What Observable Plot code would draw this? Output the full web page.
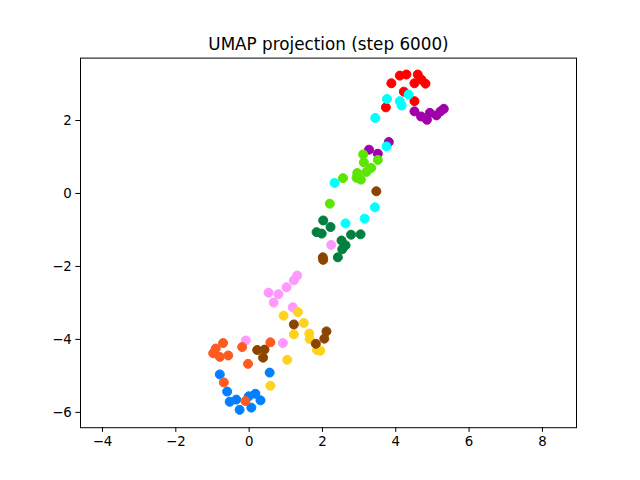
<!DOCTYPE html>
<html>
<head>
<meta charset="utf-8">
<script src="https://cdn.jsdelivr.net/npm/d3@7"></script>
<script src="https://cdn.jsdelivr.net/npm/@observablehq/plot@0.6"></script>
<style>
  body { margin: 0; background: #fff; }
  svg { font-family: "DejaVu Sans", sans-serif; }
</style>
</head>
<body>
<div id="chart"></div>
<script>
const title = "UMAP projection (step 6000)";
const xTicks = [-4, -2, 0, 2, 4, 6, 8];
const yTicks = [-6, -4, -2, 0, 2];

// Each series: [x, y] pairs
const purpleSeries = [[4.51,2.25],[4.69,2.11],[4.85,2.02],[4.93,2.21],[5.11,2.14],[5.22,2.25],[5.31,2.32],[3.81,1.41],[3.27,1.20],[3.51,1.09]];
const redSeries = [[4.11,3.23],[4.29,3.26],[4.60,3.26],[3.88,3.02],[4.51,3.02],[4.81,3.01],[4.70,3.12],[4.22,2.79],[4.51,2.53],[3.73,2.36]];
const cyanSeries = [[3.76,2.59],[4.35,2.71],[4.11,2.53],[4.16,2.41],[3.44,2.07],[3.75,1.29],[2.33,0.29],[3.43,-0.38],[3.15,-0.69],[2.63,-0.82]];
const limeSeries = [[3.11,1.07],[3.51,0.92],[3.13,0.85],[3.33,0.70],[3.20,0.59],[2.95,0.56],[2.93,0.43],[3.05,0.38],[2.56,0.42],[2.20,-0.28]];
const darkGreenSeries = [[2.02,-0.74],[2.22,-0.92],[1.84,-1.06],[1.98,-1.10],[2.52,-1.29],[2.78,-1.13],[3.04,-1.12],[2.63,-1.42],[2.54,-1.53],[2.42,-1.75]];
const pinkSeries = [[1.31,-2.25],[1.22,-2.38],[1.02,-2.57],[0.53,-2.72],[0.80,-2.76],[0.67,-2.99],[1.19,-3.12],[2.24,-1.41],[-0.09,-4.03],[0.92,-4.10]];
const yellowSeries = [[0.94,-3.35],[1.33,-3.25],[1.49,-3.55],[1.22,-3.86],[1.64,-3.84],[1.65,-3.99],[1.85,-4.29],[1.94,-4.31],[1.04,-4.56],[0.58,-5.27]];
const brownSeries = [[3.47,0.06],[2.01,-1.75],[2.02,-1.82],[1.22,-3.59],[2.11,-3.78],[2.05,-3.98],[1.82,-4.12],[0.22,-4.29],[0.42,-4.28],[0.38,-4.50]];
const blueSeries = [[-0.80,-4.96],[0.56,-4.91],[-0.60,-5.43],[-0.35,-5.65],[-0.53,-5.71],[-0.01,-5.56],[0.17,-5.49],[0.31,-5.67],[-0.26,-5.93],[0.06,-5.87]];
const orangeSeries = [[0.58,-4.08],[-0.19,-4.21],[-0.71,-4.10],[-0.91,-4.25],[-0.98,-4.38],[-0.80,-4.48],[-0.57,-4.44],[-0.03,-4.67],[-0.69,-5.18],[-0.10,-5.69]];

const seriesNames = ["s0","s1","s2","s3","s4","s5","s6","s7","s8","s9"];
const seriesData = [purpleSeries, redSeries, cyanSeries, limeSeries, darkGreenSeries, pinkSeries, yellowSeries, brownSeries, blueSeries, orangeSeries];
const seriesColors = ["#a000aa","#ff0000","#00ffff","#5ae600","#008040","#ff99ff","#ffd21f","#8b4500","#0080ff","#ff5a1f"];

const points = seriesData.flatMap((arr, i) => arr.map(([x, y]) => ({x, y, s: seriesNames[i]})));

const chart = Plot.plot({
  width: 640,
  height: 480,
  marginLeft: 80,
  marginRight: 64,
  marginTop: 57.6,
  marginBottom: 52.8,
  style: {fontFamily: "DejaVu Sans, sans-serif", fontSize: "13.33px", background: "#fff", overflow: "visible"},
  x: {domain: [-4.6, 8.93], ticks: xTicks, tickSize: 4.7, tickPadding: 4, label: null},
  y: {domain: [-6.42, 3.71], ticks: yTicks, tickSize: 4.7, tickPadding: 4, label: null},
  color: {type: "ordinal", domain: seriesNames, range: seriesColors},
  marks: [
    Plot.dot(points, {x: "x", y: "y", fill: "s", stroke: "s", strokeWidth: 1, r: 4.5}),
    Plot.frame({stroke: "black", strokeWidth: 1}),
    Plot.axisX({ticks: xTicks, tickSize: 4.7, tickPadding: 4, stroke: "black", strokeWidth: 1, fill: "black", fontSize: 13.33, label: null}),
    Plot.axisY({ticks: yTicks, tickSize: 4.7, tickPadding: 4, stroke: "black", strokeWidth: 1, fill: "black", fontSize: 13.33, label: null}),
    Plot.text([title], {frameAnchor: "top", text: d => d, lineAnchor: "bottom", dy: -8, fontSize: 16.8, fill: "black"})
  ]
});
document.getElementById("chart").appendChild(chart);
</script>
</body>
</html>
